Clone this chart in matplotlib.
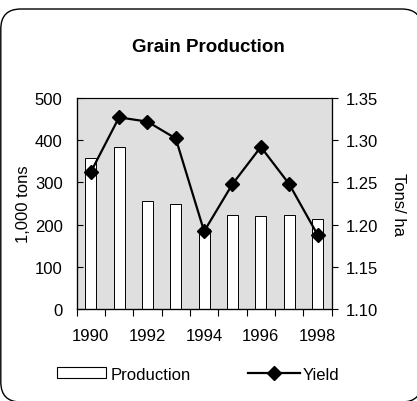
import matplotlib
matplotlib.use("Agg")
import matplotlib.pyplot as plt
from matplotlib.patches import FancyBboxPatch, Patch
from matplotlib.lines import Line2D
from matplotlib.transforms import IdentityTransform
import numpy as np

plt.rcParams['font.family'] = ['Liberation Sans', 'DejaVu Sans']

# Data
years = [1990, 1991, 1992, 1993, 1994, 1995, 1996, 1997, 1998]
production = [357, 383, 257, 248, 190, 223, 221, 223, 213]
yield_ = [1.262, 1.327, 1.322, 1.302, 1.192, 1.248, 1.292, 1.248, 1.188]
tick_labels = ["1990", "1992", "1994", "1996", "1998"]

fig = plt.figure(figsize=(4.17, 4.02), dpi=100)

# rounded outer border (pixel coords, right/bottom edges just off the image)
border = FancyBboxPatch((0.8, -1), 421, 393,
                        boxstyle="round,pad=0,rounding_size=20",
                        transform=IdentityTransform(), facecolor="white",
                        edgecolor="black", linewidth=1.0, zorder=-10)
fig.patches.append(border)

ax = fig.add_axes([0.1835, 0.2289, 0.612, 0.5249])
ax.set_facecolor("#dfdfdf")
x = np.arange(len(years))
ax.bar(x, production, width=0.39, color="white", edgecolor="black",
       linewidth=0.7, zorder=2)
ax.set_xlim(-0.5, len(years) - 0.5)
ax.set_ylim(0, 500)
ax.set_yticks(np.arange(0, 501, 100))
ax.set_ylabel("1,000 tons", fontsize=12)
ax.yaxis.set_label_coords(-0.178, 0.5)

# category ticks between bars, labels every other year
ax.set_xticks(np.arange(-0.5, len(years), 1.0), minor=False)
ax.set_xticklabels([])
ax.tick_params(axis="x", which="major", direction="out", length=5, width=0.8)
ax.set_xticks(x[::2], minor=True)
ax.set_xticklabels(tick_labels, minor=True)
ax.tick_params(axis="x", which="minor", length=0, labelsize=12, pad=14)
ax.tick_params(axis="y", direction="in", length=4, width=0.8, labelsize=12,
               pad=10)

for s in ["left", "bottom"]:
    ax.spines[s].set_color("black")
    ax.spines[s].set_linewidth(0.9)
ax.spines["top"].set_color("#606060")
ax.spines["right"].set_color("#606060")

ax2 = ax.twinx()
ax2.plot(x, yield_, color="black", linewidth=1.6, marker="D",
         markersize=7, zorder=3)
ax2.set_ylim(1.10, 1.35)
ax2.set_yticks([1.10, 1.15, 1.20, 1.25, 1.30, 1.35])
ax2.set_yticklabels(["1.10", "1.15", "1.20", "1.25", "1.30", "1.35"])
ax2.tick_params(axis="y", direction="out", length=4, width=0.8, labelsize=12,
                pad=6)
ax2.spines["right"].set_color("black")
ax2.spines["right"].set_linewidth(0.9)
ax2.set_ylabel("Tons/ ha", fontsize=12, rotation=270)
ax2.yaxis.set_label_coords(1.29, 0.5)

fig.text(0.5, 0.881, "Grain Production", ha="center", va="center",
         fontsize=13.5, fontweight="bold")

fig.legend([Patch(facecolor="white", edgecolor="black", linewidth=0.8)],
           ["Production"], loc="center left",
           bbox_to_anchor=(0.137, 0.067), frameon=False, fontsize=12,
           handlelength=2.94, handleheight=0.66, handletextpad=0.24,
           borderpad=0, borderaxespad=0)
fig.legend([Line2D([], [], color="black", linewidth=1.6, marker="D",
                   markersize=7)],
           ["Yield"], loc="center left",
           bbox_to_anchor=(0.595, 0.067), frameon=False, fontsize=12,
           handlelength=3.12, handletextpad=0.18, borderpad=0,
           borderaxespad=0)

fig.savefig("out.png", dpi=100)
